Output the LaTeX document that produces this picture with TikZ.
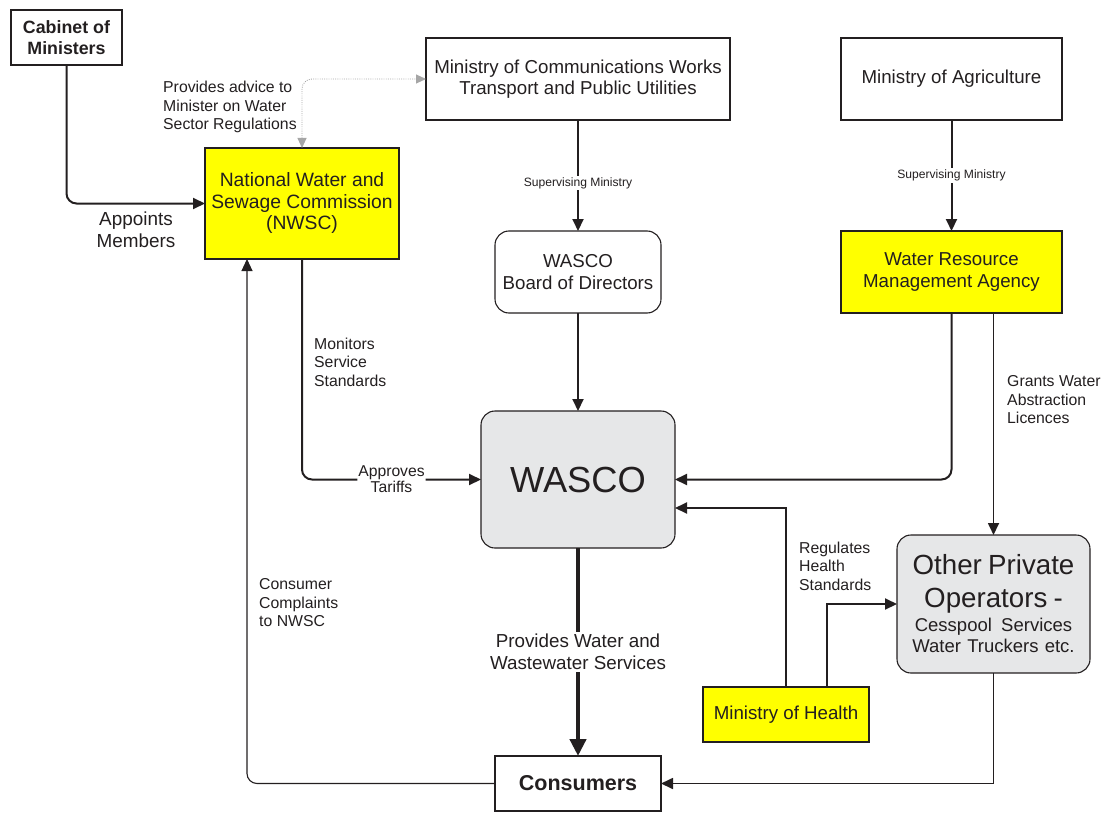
\documentclass[tikz,border=0pt]{standalone}
\usepackage{fontspec}
\setmainfont{Liberation Sans}
\usetikzlibrary{arrows.meta}
\definecolor{txt}{HTML}{231F20}
\definecolor{ylw}{HTML}{FFFF00}
\definecolor{gry}{HTML}{E6E7E8}
\tikzset{
  box/.style={draw=txt, line width=1.1pt, inner sep=0pt, outer sep=0pt, align=center, text=txt,
     font=\fontsize{18.7}{21.5}\selectfont},
  rbox/.style={box, rounded corners=14pt},
  arr/.style={draw=txt, line width=2pt, -{Triangle[length=12pt,width=11pt]}},
  thinarr/.style={draw=txt, line width=1.7pt, -{Triangle[length=12pt,width=11pt]}},
  dotarr/.style={draw=gray!70, line width=0.9pt, dash pattern=on 0.9pt off 1.3pt, {Triangle[length=10pt,width=9pt]}-{Triangle[length=10pt,width=9pt]}},
  lbl/.style={text=txt, inner sep=1pt, font=\fontsize{15.8}{18.5}\selectfont, align=left},
  small/.style={text=txt, fill=white, inner sep=1.5pt, font=\fontsize{12.1}{14}\selectfont},
}
\begin{document}
\begin{tikzpicture}[x=1pt,y=-1pt]
\useasboundingbox (0,0) rectangle (1105,840);
% nodes
\node[box, minimum width=111pt, minimum height=55pt, font=\bfseries\fontsize{17.8}{21.5}\selectfont] (cab) at (66.5,37.5) {Cabinet of\\Ministers};
\node[box, minimum width=304pt, minimum height=82pt] (moc) at (578,79) {Ministry of Communications Works\\Transport and Public Utilities};
\node[box, minimum width=221pt, minimum height=82pt] (moa) at (951.5,79) {Ministry of Agriculture};
\node[box, fill=ylw, minimum width=194pt, minimum height=111pt, font=\fontsize{19.3}{21.5}\selectfont] (nwsc) at (302,203.5) {National Water and\\Sewage Commission\\(NWSC)};
\node[rbox, minimum width=166pt, minimum height=82pt] (board) at (578,272) {WASCO\\Board of Directors};
\node[box, fill=ylw, minimum width=221pt, minimum height=82pt] (wrma) at (951.5,272) {Water Resource\\Management Agency};
\node[rbox, fill=gry, minimum width=194pt, minimum height=137pt, font=\fontsize{36.3}{44}\selectfont] (wasco) at (578,479.5) {WASCO};
\node[rbox, fill=gry, minimum width=193pt, minimum height=138pt, text width=192pt] (opo) at (993.5,604)
  {{\fontsize{27.7}{33}\selectfont Other Private\\Operators -\par}\vspace{2pt}{\fontsize{18.5}{21.5}\selectfont Cesspool\ \,Services\\Water Truckers etc.\par}};
\node[box, fill=ylw, minimum width=166pt, minimum height=55pt] (moh) at (786,714.5) {Ministry of Health};
\node[box, minimum width=166pt, minimum height=55pt, font=\bfseries\fontsize{21.5}{24}\selectfont] (cons) at (578,783.5) {Consumers};
% connectors
\draw[arr, rounded corners=10pt] (cab.south) |- (nwsc.west);
\draw[dotarr, rounded corners=10pt] (nwsc.north) |- (moc.west);
\draw[arr] (moc.south) -- node[small, pos=0.57] {Supervising Ministry} (board.north);
\draw[arr] (moa.south) -- node[small, pos=0.5] {Supervising Ministry} (wrma.north);
\draw[arr] (board.south) -- (wasco.north);
\draw[arr, rounded corners=10pt] (nwsc.south) |- node[pos=0.75, fill=white, inner sep=1pt, text=txt, align=center, font=\fontsize{15.7}{16}\selectfont] {Approves\\Tariffs} (wasco.west);
\draw[arr, rounded corners=10pt] (wrma.south) |- (wasco.east);
\draw[thinarr] (wrma.south -| opo.north) -- (opo.north);
\draw[arr] (moh.north) |- ([yshift=-28.5pt]wasco.east);
\draw[arr] ([xshift=41pt]moh.north) |- (opo.west);
\draw[draw=txt, line width=4.5pt, -{Triangle[length=17pt,width=16pt]}] (wasco.south) -- node[pos=0.5, fill=white, inner sep=2pt, text=txt, align=center, font=\fontsize{18.8}{22}\selectfont] {Provides Water and\\Wastewater Services} (cons.north);
\draw[thinarr] (opo.south) |- (cons.east);
\draw[draw=txt, line width=1.1pt, -{Triangle[length=12pt,width=11pt]}, rounded corners=10pt] (cons.west) -| ([xshift=-55pt]nwsc.south);
% free labels
\node[lbl, align=center, font=\fontsize{18.9}{22}\selectfont] (appl) at (136,230) {Appoints\\Members};
\node[lbl, anchor=west] (advl) at (162,107) {Provides advice to\\Minister on Water\\Sector Regulations};
\node[lbl, anchor=west] (monl) at (313,362) {Monitors\\Service\\Standards};
\node[lbl, anchor=west] (gral) at (1006,400) {Grants Water\\Abstraction\\Licences};
\node[lbl, anchor=west] (regl) at (798,566) {Regulates\\Health\\Standards};
\node[lbl, anchor=west] (coml) at (258,603) {Consumer\\Complaints\\to NWSC};
\end{tikzpicture}
\end{document}
